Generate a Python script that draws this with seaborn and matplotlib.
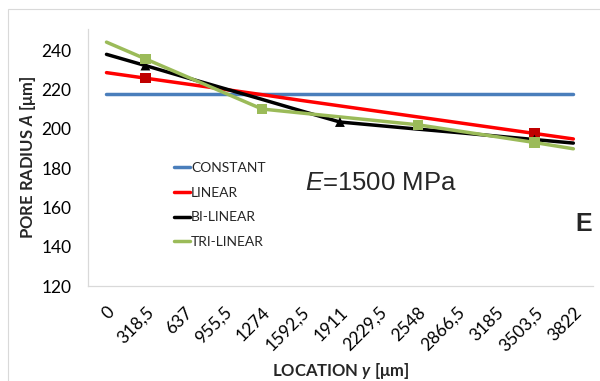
import matplotlib
matplotlib.use("Agg")
import matplotlib.pyplot as plt
import matplotlib.patches as mpatches
import seaborn as sns
import pandas as pd

# data
locations = ["0", "318,5", "637", "955,5", "1274", "1592,5", "1911",
             "2229,5", "2548", "2866,5", "3185", "3503,5", "3822"]
constant = [217.5, 217.5, 217.5, 217.5, 217.5, 217.5, 217.5,
            217.5, 217.5, 217.5, 217.5, 217.5, 217.5]
linear = [228.5, 225.7, 222.9, 220.1, 217.3, 214.4, 211.6,
          208.8, 206.0, 203.2, 200.4, 197.6, 194.8]
bilinear = [237.8, 232.1, 226.3, 220.6, 214.9, 209.1, 203.4,
            201.6, 199.8, 198.1, 196.3, 194.5, 192.7]
trilinear = [244.0, 235.5, 227.0, 218.5, 210.0, 208.0, 206.0,
             204.0, 202.0, 199.0, 196.0, 193.0, 189.8]

linear_marks = [1, 11]
bilinear_marks = [1, 6, 11]
trilinear_marks = [1, 4, 8, 11]

sns.set_style("white")
plt.rcParams['font.family'] = ['Lato', 'DejaVu Sans']
plt.rcParams['mathtext.fontset'] = 'custom'
plt.rcParams['mathtext.bfit'] = 'Lato:italic:bold'
plt.rcParams['mathtext.it'] = 'Liberation Sans:italic'
plt.rcParams['mathtext.rm'] = 'Liberation Sans'

df = pd.DataFrame({
    'pos': list(range(len(locations))) * 4,
    'radius': constant + linear + bilinear + trilinear,
    'model': ['CONSTANT'] * 13 + ['LINEAR'] * 13 + ['BI-LINEAR'] * 13 + ['TRI-LINEAR'] * 13,
})
colors = {'CONSTANT': '#4A7EBB', 'LINEAR': '#FF0000',
          'BI-LINEAR': '#000000', 'TRI-LINEAR': '#9BBB59'}

fig = plt.figure(figsize=(6, 3.81), dpi=100)
ax = fig.add_axes([0.147, 0.249, 0.841, 0.675])

# outer chart frame
fig.patches.append(mpatches.Rectangle((8 / 600, -0.1), 1.2, 1 - 9 / 381 + 0.1,
                                      transform=fig.transFigure, fill=False,
                                      edgecolor='#D9D9D9', linewidth=0.8, zorder=0))

sns.lineplot(data=df, x='pos', y='radius', hue='model', palette=colors,
             linewidth=2.5, ax=ax, sort=False)

sns.scatterplot(x=linear_marks, y=[linear[i] for i in linear_marks], marker='s',
                color='#C00000', s=55, edgecolor='none', ax=ax, zorder=5)
sns.scatterplot(x=bilinear_marks, y=[bilinear[i] for i in bilinear_marks], marker='^',
                color='#000000', s=50, edgecolor='none', ax=ax, zorder=5)
sns.scatterplot(x=trilinear_marks, y=[trilinear[i] for i in trilinear_marks], marker='s',
                color='#9BBB59', s=55, edgecolor='none', ax=ax, zorder=6)

ax.set_xlim(-0.47, 12.5)
ax.set_ylim(120, 250.7)
ax.set_yticks([120, 140, 160, 180, 200, 220, 240])
ax.set_xticks(range(len(locations)))
ax.set_xticklabels(locations, rotation=45, ha='right', rotation_mode='anchor')
ax.tick_params(axis='both', labelsize=12.5, length=0, colors='#000000')
ax.tick_params(axis='x', pad=13)
ax.tick_params(axis='y', pad=12)

for s in ['top', 'right']:
    ax.spines[s].set_visible(False)
for s in ['left', 'bottom']:
    ax.spines[s].set_color('#D9D9D9')
    ax.spines[s].set_linewidth(0.9)

ax.set_xlabel(r'LOCATION $\mathbfit{y}$ [μm]', fontsize=12, fontweight='bold')
ax.set_ylabel(r'PORE RADIUS $\mathbfit{A}$ [μm]', fontsize=12, fontweight='bold')
ax.xaxis.set_label_coords(0.5, -0.29)
ax.yaxis.set_label_coords(-0.10, 0.5)

leg = ax.legend(loc='upper left', bbox_to_anchor=(0.16, 0.505), frameon=False,
                fontsize=10, handlelength=1.1, handletextpad=0.1,
                labelspacing=0.92, borderaxespad=0)
for line in leg.get_lines():
    line.set_linewidth(2.5)

ax.text(0.43, 0.40, r'$\it{E}$=1500 MPa', transform=ax.transAxes,
        fontsize=18.5, family='Liberation Sans', va='center')
ax.text(0.966, 0.241, 'E', transform=ax.transAxes, fontsize=18,
        fontweight='bold', family='Liberation Sans', va='center')

fig.savefig('out.png', dpi=100)
